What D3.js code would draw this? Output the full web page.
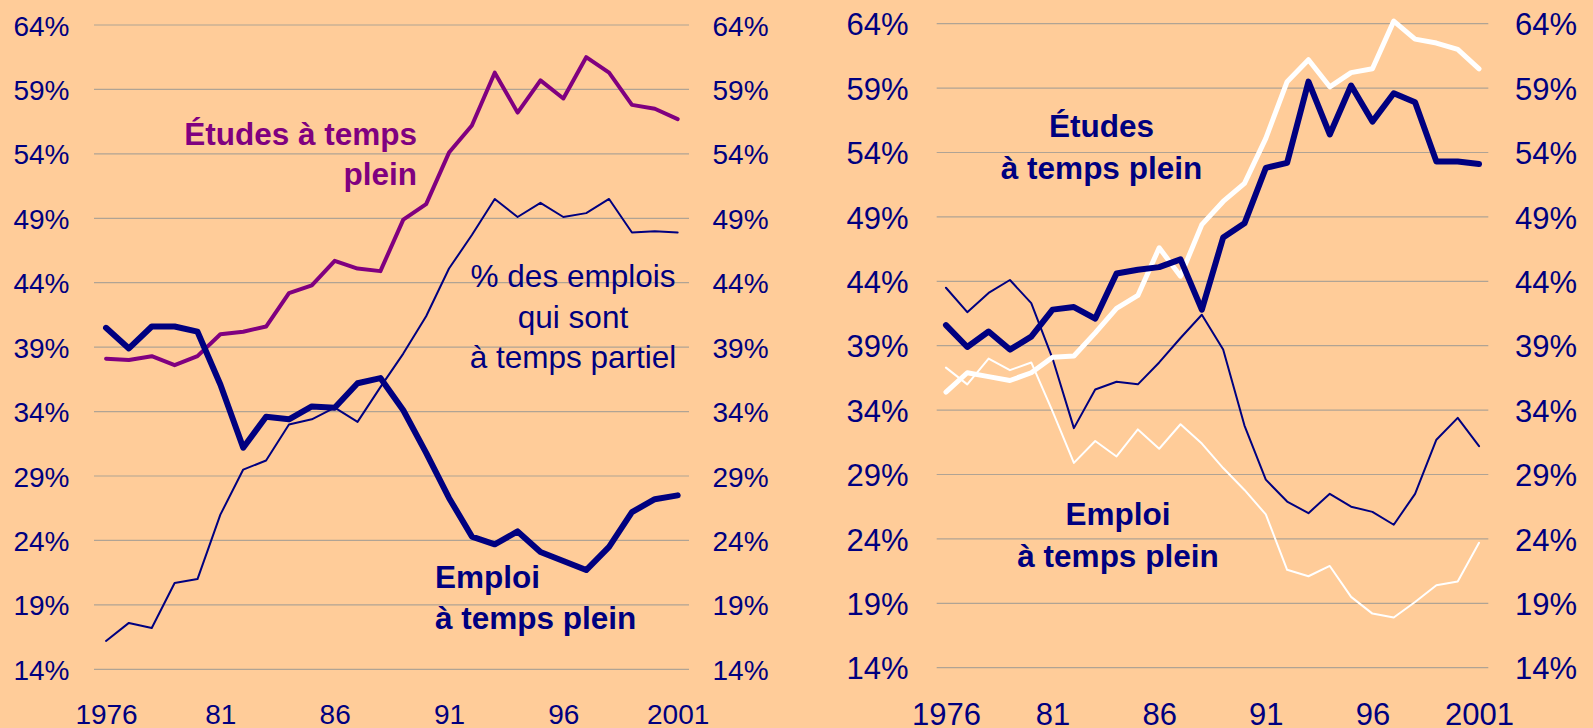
<!DOCTYPE html>
<html>
<head>
<meta charset="utf-8">
<script src="https://cdn.jsdelivr.net/npm/d3@7"></script>
<style>
  html, body { margin: 0; padding: 0; background: #FFCC99; }
  svg { display: block; }
  text { font-family: "Liberation Sans", Arial, sans-serif; }
</style>
</head>
<body>
<svg id="chart" width="1593" height="728"></svg>
<script>
// ---------- DATA ----------
const years = [1976,1977,1978,1979,1980,1981,1982,1983,1984,1985,1986,1987,1988,
               1989,1990,1991,1992,1993,1994,1995,1996,1997,1998,1999,2000,2001];
const xTickYears  = [1976, 1981, 1986, 1991, 1996, 2001];
const xTickLabels = ["1976", "81", "86", "91", "96", "2001"];
const yTicks = [14, 19, 24, 29, 34, 39, 44, 49, 54, 59, 64];

// Left panel
const leftEtudes = [38.1,38.0,38.3,37.6,38.3,40.0,40.2,40.6,43.2,43.8,45.7,45.1,44.9,
                    48.9,50.1,54.1,56.2,60.3,57.2,59.7,58.3,61.5,60.3,57.8,57.5,56.7];
const leftEmploi = [40.5,38.9,40.6,40.6,40.2,36.1,31.2,33.6,33.4,34.4,34.3,36.2,36.6,
                    34.1,30.8,27.3,24.3,23.7,24.7,23.1,22.4,21.7,23.5,26.2,27.2,27.5];
const leftPartiel = [16.2,17.6,17.2,20.7,21.0,26.0,29.5,30.2,33.0,33.4,34.3,33.2,35.9,
                     38.5,41.4,45.1,47.7,50.5,49.1,50.2,49.1,49.4,50.5,47.9,48.0,47.9];

// Right panel
const rightEtudesNavy = [40.6,38.9,40.1,38.7,39.7,41.8,42.0,41.1,44.6,44.9,45.1,45.7,41.8,
                         47.4,48.5,52.8,53.2,59.5,55.4,59.2,56.4,58.6,57.9,53.3,53.3,53.1];
const rightEtudesWhite = [35.4,36.9,36.6,36.3,36.9,38.1,38.2,40.0,41.9,42.9,46.6,44.4,48.4,
                          50.2,51.6,55.1,59.5,61.2,59.1,60.2,60.5,64.2,62.8,62.5,62.0,60.5];
const rightEmploiNavy = [43.5,41.6,43.1,44.1,42.3,38.0,32.6,35.6,36.2,36.0,37.7,39.6,41.4,
                         38.7,32.8,28.6,26.9,26.0,27.5,26.5,26.1,25.1,27.5,31.7,33.4,31.2];
const rightEmploiWhite = [37.3,36.0,38.0,37.1,37.7,33.9,29.9,31.6,30.4,32.5,31.0,32.9,31.4,
                          29.5,27.8,25.9,21.6,21.1,21.9,19.5,18.2,17.9,19.1,20.4,20.7,23.7];

// ---------- STYLE ----------
const NAVY = "#000080", PURPLE = "#800080", WHITE = "#FFFFFF";
const GRID = "#B0A394", BG = "#FFCC99";
const FONT = '"Liberation Sans", Arial, sans-serif';
const svg = d3.select("#chart");
svg.append("rect").attr("width", 1593).attr("height", 728).attr("fill", BG);

function panel(cfg) {
  const x = d3.scalePoint().domain(years).range([cfg.x0, cfg.x1]).padding(0.5);
  const y = d3.scaleLinear().domain([14, 64]).range([cfg.yb, cfg.yt]);
  const g = svg.append("g");

  // gridlines
  g.selectAll("line.grid").data(yTicks).join("line")
    .attr("x1", cfg.gx0).attr("x2", cfg.gx1)
    .attr("y1", d => y(d)).attr("y2", d => y(d))
    .attr("stroke", GRID).attr("stroke-width", 1.2);

  const fs = cfg.axisFont + "px";

  // left axis labels
  const yl = d3.axisLeft(y).tickValues(yTicks).tickFormat(d => d + "%").tickSize(0).tickPadding(0);
  const gl = g.append("g").attr("transform", `translate(${cfg.labL},0)`).call(yl);
  gl.select(".domain").remove();
  gl.selectAll("text").attr("fill", NAVY).style("font-size", fs)
    .style("font-family", FONT).attr("dy", "0.36em");

  // right axis labels
  const yr = d3.axisRight(y).tickValues(yTicks).tickFormat(d => d + "%").tickSize(0).tickPadding(0);
  const gr = g.append("g").attr("transform", `translate(${cfg.labR},0)`).call(yr);
  gr.select(".domain").remove();
  gr.selectAll("text").attr("fill", NAVY).style("font-size", fs)
    .style("font-family", FONT).attr("dy", "0.36em");

  // x axis labels
  const xa = d3.axisBottom(x).tickValues(xTickYears)
    .tickFormat(d => xTickLabels[xTickYears.indexOf(d)]).tickSize(0).tickPadding(0);
  const gx = g.append("g").attr("transform", `translate(0,${cfg.xBase})`).call(xa);
  gx.select(".domain").remove();
  gx.selectAll("text").attr("fill", NAVY).style("font-size", fs)
    .style("font-family", FONT).attr("dy", "0").attr("y", 0);

  const line = d3.line().x((d, i) => x(years[i])).y(d => y(d));
  cfg.series.forEach(s => {
    g.append("path").datum(s.values).attr("d", line)
      .attr("fill", "none").attr("stroke", s.color).attr("stroke-width", s.width)
      .attr("stroke-linejoin", "round").attr("stroke-linecap", "round");
  });

  cfg.labels.forEach(l => {
    const t = g.append("text").attr("text-anchor", l.anchor).attr("fill", l.color)
      .style("font-size", "31.5px").style("font-weight", l.bold ? "bold" : "normal");
    l.lines.forEach((ln, i) => {
      t.append("tspan").attr("x", l.x).attr("y", l.y + i * l.lh).text(ln);
    });
  });
}

panel({
  x0: 94.6, x1: 689.1, yt: 25, yb: 669.3, gx0: 94, gx1: 689,
  labL: 69.5, labR: 712.5, xBase: 723.5, axisFont: 28,
  series: [
    { values: leftPartiel, color: NAVY, width: 2 },
    { values: leftEtudes, color: PURPLE, width: 4 },
    { values: leftEmploi, color: NAVY, width: 6 }
  ],
  labels: [
    { lines: ["Études à temps", "plein"], x: 417, y: 145, lh: 40, anchor: "end", color: PURPLE, bold: true },
    { lines: ["% des emplois", "qui sont", "à temps partiel"], x: 573, y: 287, lh: 40.5, anchor: "middle", color: NAVY, bold: false },
    { lines: ["Emploi", "à temps plein"], x: 435, y: 588, lh: 41, anchor: "start", color: NAVY, bold: true }
  ]
});

panel({
  x0: 935.3, x1: 1489.7, yt: 23.7, yb: 667.7, gx0: 936.7, gx1: 1488.3,
  labL: 908.5, labR: 1515, xBase: 724.5, axisFont: 31,
  series: [
    { values: rightEmploiNavy, color: NAVY, width: 2 },
    { values: rightEmploiWhite, color: WHITE, width: 2 },
    { values: rightEtudesWhite, color: WHITE, width: 5 },
    { values: rightEtudesNavy, color: NAVY, width: 6 }
  ],
  labels: [
    { lines: ["Études", "à temps plein"], x: 1101.5, y: 137, lh: 41.5, anchor: "middle", color: NAVY, bold: true },
    { lines: ["Emploi", "à temps plein"], x: 1118, y: 525, lh: 41.5, anchor: "middle", color: NAVY, bold: true }
  ]
});
</script>
</body>
</html>
